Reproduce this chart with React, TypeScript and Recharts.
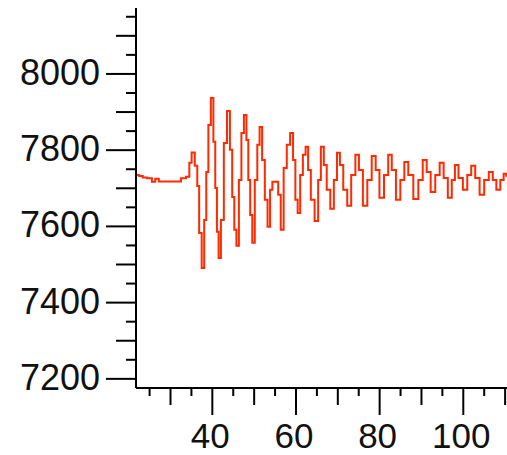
import { LineChart, Line, XAxis, YAxis } from 'recharts'

const times = [
  22, 23, 23.7, 25.2, 25.9, 26.8, 27.6, 31.9, 33.1, 34.3, 34.7, 35.4, 36.2, 36.6, 37.1, 37.8,
  38.3, 38.8, 39.3, 40, 40.5, 40.9, 41.3, 41.7, 42.4, 43.1, 43.9, 44.5, 45, 45.5, 46, 46.7,
  47.2, 47.9, 48.4, 48.8, 49.3, 49.8, 50.5, 51, 51.6, 52.2, 52.9, 53.5, 54.1, 54.6, 55.5, 56,
  56.7, 57.4, 58.2, 59, 59.6, 60.1, 60.7, 61.3, 62, 62.6, 63.2, 63.9, 65, 65.6, 66.3, 67,
  67.7, 68.7, 69.4, 70.2, 70.8, 71.8, 72.7, 73.7, 74.7, 75.4, 76.6, 77.5, 78.7, 79.4, 80.5,
  81.6, 82.5, 83.3, 84.5, 85.4, 86.4, 87.3, 88.8, 89.7, 90.9, 91.6, 92.8, 93.8, 94.9, 95.7,
  96.9, 97.6, 98.4, 99.3, 100.5, 101.4, 102.4, 103.3, 104.5, 105.5, 106.7, 107.4, 108.4,
  109.3, 110, 110.5,
]
const values = [
  7735, 7732, 7728, 7726, 7717, 7725, 7718, 7718, 7726, 7730, 7767, 7794, 7759, 7706, 7583, 7491,
  7617, 7743, 7866, 7937, 7822, 7701, 7586, 7517, 7617, 7819, 7903, 7801, 7677, 7591, 7549, 7722,
  7845, 7892, 7827, 7722, 7630, 7557, 7722, 7814, 7861, 7774, 7670, 7599, 7696, 7717, 7717, 7683,
  7591, 7753, 7814, 7845, 7774, 7670, 7635, 7735, 7788, 7809, 7748, 7670, 7614, 7722, 7809, 7761,
  7696, 7646, 7722, 7793, 7761, 7696, 7654, 7735, 7788, 7748, 7654, 7722, 7785, 7748, 7675,
  7735, 7788, 7748, 7670, 7722, 7769, 7735, 7672, 7722, 7774, 7743, 7690, 7735, 7767, 7727,
  7675, 7722, 7761, 7727, 7696, 7735, 7759, 7727, 7683, 7722, 7743, 7722, 7696,
  7722, 7738, 7733,
]

const yTicks = [7200, 7250, 7300, 7350, 7400, 7450, 7500, 7550, 7600, 7650, 7700, 7750, 7800, 7850, 7900, 7950, 8000, 8050, 8100, 8150]
const xTicks = [25, 30, 35, 40, 45, 50, 55, 60, 65, 70, 75, 80, 85, 90, 95, 100, 105, 110]

const data = times.map((t, i) => ({ t, v: values[i] }))

const FONT = '"Liberation Sans", Arial, sans-serif'

function YTick(props: any) {
  const { x, y, payload } = props
  const v = payload.value
  const major = v % 200 === 0
  const len = major ? 30 : v % 100 === 0 ? 20 : 10
  return (
    <g>
      <line x1={x - len} x2={x} y1={y} y2={y} stroke="#000" strokeWidth={2} />
      {major && (
        <text x={x - 36} y={y} dy={11} textAnchor="end" fontSize={36} fontFamily={FONT} fill="#111">
          {v}
        </text>
      )}
    </g>
  )
}

function XTick(props: any) {
  const { x, y, payload } = props
  const v = payload.value
  const major = v % 20 === 0
  const len = major ? 27 : v % 10 === 0 ? 17 : 8
  return (
    <g>
      <line x1={x} x2={x} y1={y} y2={y + len} stroke="#000" strokeWidth={2} />
      {major && (
        <text x={x - 2} y={y + 60} textAnchor="middle" fontSize={35} fontFamily={FONT} fill="#111">
          {v}
        </text>
      )}
    </g>
  )
}

export default function App() {
  return (
    <div style={{ position: 'absolute', left: 0, top: 0, width: 507, height: 455, background: '#fff' }}>
      <LineChart width={507} height={455} data={data} margin={{ top: 8, right: 0, bottom: 0, left: 0 }}>
        <XAxis
          dataKey="t" type="number" domain={[21.75, 110.45]} allowDataOverflow
          ticks={xTicks} interval={0} height={67} tickSize={0} tickMargin={0}
          axisLine={{ stroke: '#000', strokeWidth: 2 }} tick={<XTick />}
        />
        <YAxis
          type="number" domain={[7176, 8173]} allowDataOverflow
          ticks={yTicks} interval={0} width={136} tickSize={0} tickMargin={0}
          axisLine={{ stroke: '#000', strokeWidth: 2 }} tick={<YTick />}
        />
        <Line type="step" dataKey="v" stroke="#ff2a00" strokeWidth={2} dot={false} isAnimationActive={false} />
      </LineChart>
    </div>
  )
}
